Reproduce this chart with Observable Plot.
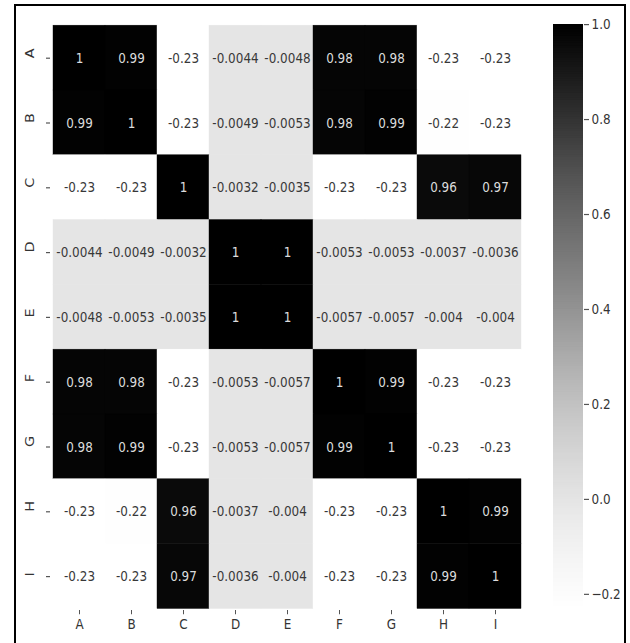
<!DOCTYPE html>
<html>
<head>
<meta charset="utf-8">
<script src="https://cdn.jsdelivr.net/npm/d3@7"></script>
<script src="https://cdn.jsdelivr.net/npm/@observablehq/plot@0.6"></script>
<style>
  html, body { margin: 0; padding: 0; background: #fff; }
  #wrap { position: relative; width: 630px; height: 643px; overflow: hidden; background: #fff; }
  #frame { position: absolute; left: 14px; top: 4px; width: 612px; height: 700px; box-sizing: border-box; border: 2px solid #000; }
  #wrap svg { position: absolute; left: 0; top: 0; }
</style>
</head>
<body>
<div id="wrap"><div id="frame"></div></div>
<script>
// Variables (rows and columns of the correlation matrix)
const labels = ["A", "B", "C", "D", "E", "F", "G", "H", "I"];
const rowA = [1, 0.99, -0.23, -0.0044, -0.0048, 0.98, 0.98, -0.23, -0.23];
const rowB = [0.99, 1, -0.23, -0.0049, -0.0053, 0.98, 0.99, -0.22, -0.23];
const rowC = [-0.23, -0.23, 1, -0.0032, -0.0035, -0.23, -0.23, 0.96, 0.97];
const rowD = [-0.0044, -0.0049, -0.0032, 1, 1, -0.0053, -0.0053, -0.0037, -0.0036];
const rowE = [-0.0048, -0.0053, -0.0035, 1, 1, -0.0057, -0.0057, -0.004, -0.004];
const rowF = [0.98, 0.98, -0.23, -0.0053, -0.0057, 1, 0.99, -0.23, -0.23];
const rowG = [0.98, 0.99, -0.23, -0.0053, -0.0057, 0.99, 1, -0.23, -0.23];
const rowH = [-0.23, -0.22, 0.96, -0.0037, -0.004, -0.23, -0.23, 1, 0.99];
const rowI = [-0.23, -0.23, 0.97, -0.0036, -0.004, -0.23, -0.23, 0.99, 1];
const colorTicks = [-0.2, 0.0, 0.2, 0.4, 0.6, 0.8, 1.0];
const colorDomain = [-0.23, 1];

const matrix = [rowA, rowB, rowC, rowD, rowE, rowF, rowG, rowH, rowI];
const cells = [];
matrix.forEach((row, i) => row.forEach((v, j) => cells.push({row: labels[i], col: labels[j], value: v, text: String(v)})));

const W = 630, H = 643, S = 1.2;       // source image is stretched vertically
const h = H / S;
const font = {fontFamily: "'DejaVu Sans', sans-serif", fontSize: "12px", background: "transparent", height: H + "px", overflow: "visible"};

const heat = Plot.plot({
  width: W, height: h,
  marginLeft: 50, marginRight: W - 523,
  marginTop: 24.5 / S, marginBottom: h - 610 / S,
  style: font,
  x: {type: "band", domain: labels, padding: 0, label: null},
  y: {type: "band", domain: labels, padding: 0, label: null},
  color: {type: "linear", scheme: "greys", domain: colorDomain},
  marks: [
    Plot.cell(cells, {x: "col", y: "row", fill: "value", stroke: "value", strokeWidth: 0.4, inset: 0}),
    Plot.text(cells.filter(d => d.value > 0.4), {x: "col", y: "row", text: "text", fill: "#dcdcdc", fontSize: 12}),
    Plot.text(cells.filter(d => d.value <= 0.4), {x: "col", y: "row", text: "text", fill: "#383838", fontSize: 12}),
    Plot.axisX({anchor: "bottom", tickSize: 3.5, tickPadding: 3, stroke: "#555", fill: "#333", label: null, fontSize: 12}),
    Plot.axisY({anchor: "left", tickSize: 4, tickPadding: 0, stroke: "#555", tickFormat: () => "", label: null}),
    Plot.text(labels, {y: d => d, text: d => d, frameAnchor: "left", dx: -20, rotate: -90, fill: "#333", fontSize: 12})
  ]
});

const step = 0.005;
const grad = d3.range(colorDomain[0], colorDomain[1], step).map(v => ({y1: v, y2: Math.min(v + step * 1.6, colorDomain[1]), v: v + step / 2}));
const bar = Plot.plot({
  width: W, height: h,
  marginLeft: 553, marginRight: W - 583,
  marginTop: 24 / S, marginBottom: h - 608 / S,
  style: font,
  x: {domain: [0, 1], axis: null},
  y: {domain: colorDomain, label: null},
  color: {type: "linear", scheme: "greys", domain: colorDomain},
  marks: [
    Plot.rect(grad, {x1: 0, x2: 1, y1: "y1", y2: "y2", fill: "v"}),
    Plot.axisY({anchor: "right", ticks: colorTicks, tickSize: 5, tickPadding: 3, stroke: "#555", fill: "#333",
      tickFormat: d => (d < 0 ? "\u2212" : "") + Math.abs(d).toFixed(1), label: null, fontSize: 12})
  ]
});

for (const svg of [heat, bar]) {
  svg.setAttribute("preserveAspectRatio", "none");
  svg.setAttribute("viewBox", `0 0 ${W} ${h}`);
  svg.setAttribute("width", W);
  svg.setAttribute("height", H);
  svg.style.height = H + "px";
  svg.style.width = W + "px";
  svg.style.maxWidth = "none";
  document.getElementById("wrap").appendChild(svg);
}
</script>
</body>
</html>
